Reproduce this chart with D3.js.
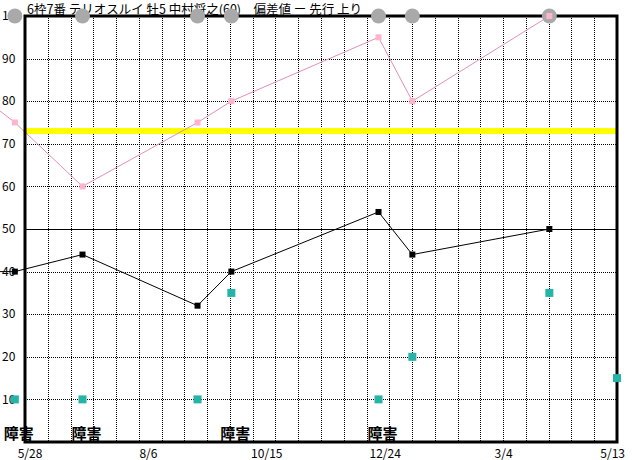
<!DOCTYPE html>
<html>
<head>
<meta charset="utf-8">
<script src="https://cdn.jsdelivr.net/npm/d3@7"></script>
<style>
  body { margin: 0; background: #fff; }
  text { font-family: "Noto Sans CJK JP", "Noto Sans", sans-serif; }
</style>
</head>
<body>
<div id="chart"></div>
<script>
// DATA
// ---------------------------------------------------------------------
const titleText = "6枠7番 テリオスルイ 牡5 中村将之(60)　偏差値 ー 先行 上り";
const raceDates = ["2022-04-10", "2022-05-22", "2022-07-01", "2022-09-07", "2022-09-27",
                   "2022-12-23", "2023-01-12", "2023-04-03", "2023-05-13"];
const blackVals = [40, 40, 44, 32, 40, 54, 44, 50, null];
const pinkVals  = [88, 75, 60, 75, 80, 95, 80, 100, null];
const tealVals  = [null, 10, 10, 10, 35, 10, 20, 35, 15];
const raceTags  = ["", "障害", "障害", "", "障害", "障害", "", "", ""];
const tickDates = ["2022-05-28", "2022-08-06", "2022-10-15", "2022-12-24", "2023-03-04", "2023-05-13"];
const tickLabels = ["5/28", "8/6", "10/15", "12/24", "3/4", "5/13"];
const yTicks = [10, 20, 30, 40, 50, 60, 70, 80, 90, 100];
const guideValue = 73;

// SETUP
// ---------------------------------------------------------------------
const W = 632, H = 460;
const pad = { left: 25, right: 617, top: 16, bottom: 442 };
const parse = d3.timeParse("%Y-%m-%d");

const svg = d3.select("#chart").append("svg")
  .attr("width", W).attr("height", H)
  .style("display", "block");

svg.append("rect").attr("width", W).attr("height", H).attr("fill", "#fff");

const x = d3.scaleTime()
  .domain([parse(tickDates[0]), parse(tickDates[tickDates.length - 1])])
  .range([pad.left, pad.right]);
const y = d3.scaleLinear().domain([0, 100]).range([pad.bottom, pad.top]);
const col = d3.scaleLinear().domain([0, 26]).range([pad.left, pad.right]);

const races = raceDates.map((d, i) => ({
  date: parse(d), black: blackVals[i], pink: pinkVals[i], teal: tealVals[i], tag: raceTags[i]
}));

// GRID
// ---------------------------------------------------------------------
svg.append("g").selectAll("line")
  .data(d3.range(1, 26))
  .enter().append("line")
  .attr("x1", d => Math.round(col(d)) + 0.5).attr("x2", d => Math.round(col(d)) + 0.5)
  .attr("y1", pad.top).attr("y2", pad.bottom)
  .attr("stroke", "#000").attr("stroke-dasharray", "1,1");

svg.append("g").selectAll("line")
  .data(yTicks.filter(v => v < 100))
  .enter().append("line")
  .attr("x1", pad.left).attr("x2", pad.right)
  .attr("y1", d => Math.round(y(d)) + 0.5).attr("y2", d => Math.round(y(d)) + 0.5)
  .attr("stroke", "#000")
  .attr("stroke-dasharray", d => d === 50 ? null : "1,1");

// guide line
svg.append("line")
  .attr("x1", pad.left).attr("x2", pad.right)
  .attr("y1", y(guideValue)).attr("y2", y(guideValue))
  .attr("stroke", "#ffff00").attr("stroke-width", 6);

// LINES
// ---------------------------------------------------------------------
svg.append("path")
  .datum(races.filter(d => d.pink != null))
  .attr("fill", "none").attr("stroke", "#e38fb8").attr("stroke-width", 1)
  .attr("d", d3.line().x(d => x(d.date)).y(d => y(d.pink)));

svg.append("path")
  .datum(races.filter(d => d.black != null))
  .attr("fill", "none").attr("stroke", "#000").attr("stroke-width", 1)
  .attr("d", d3.line().x(d => x(d.date)).y(d => y(d.black)));

// FRAME
// ---------------------------------------------------------------------
svg.append("rect")
  .attr("x", pad.left).attr("y", pad.top)
  .attr("width", pad.right - pad.left).attr("height", pad.bottom - pad.top)
  .attr("fill", "none").attr("stroke", "#000").attr("stroke-width", 3);

// TITLE
svg.append("text")
  .attr("x", 27).attr("y", 14)
  .attr("font-size", 12.5)
  .style("white-space", "pre")
  .text(titleText);

// Y LABELS
svg.append("g").selectAll("text")
  .data(yTicks)
  .enter().append("text")
  .attr("x", 2).attr("y", d => y(d))
  .attr("dy", "0.35em")
  .attr("font-size", 12)
  .text(d => d);

// X LABELS
const xl = svg.append("g").selectAll("text")
  .data(tickDates)
  .enter().append("text")
  .attr("x", d => x(parse(d)) + 5)
  .attr("y", 458)
  .attr("font-size", 12)
  .attr("text-anchor", "middle")
  .text((d, i) => tickLabels[i]);
xl.each(function () {
  const t = d3.select(this);
  const w = this.getComputedTextLength();
  const cx = +t.attr("x");
  if (cx - w / 2 < 17) t.attr("x", 17 + w / 2);
  if (cx + w / 2 > 625) t.attr("x", 625 - w / 2);
});

// MARKERS
// ---------------------------------------------------------------------
svg.append("g").selectAll("rect")
  .data(races.filter(d => d.black != null))
  .enter().append("rect")
  .attr("x", d => x(d.date) - 3).attr("y", d => y(d.black) - 3)
  .attr("width", 6).attr("height", 6).attr("fill", "#000");

svg.append("g").selectAll("rect")
  .data(races.filter(d => d.teal != null))
  .enter().append("rect")
  .attr("x", d => x(d.date) - 4).attr("y", d => y(d.teal) - 4)
  .attr("width", 8).attr("height", 8).attr("fill", "#26b3a8");

svg.append("g").selectAll("circle")
  .data(races.filter(d => d.black != null))
  .enter().append("circle")
  .attr("cx", d => x(d.date)).attr("cy", y(100))
  .attr("r", 7.5).attr("fill", "#a9a9a9");

svg.append("g").selectAll("rect")
  .data(races.filter(d => d.pink != null))
  .enter().append("rect")
  .attr("x", d => x(d.date) - 3).attr("y", d => y(d.pink) - 3)
  .attr("width", 6).attr("height", 6).attr("fill", "#ffb3cc");

// TAGS
svg.append("g").selectAll("text")
  .data(races.filter(d => d.tag))
  .enter().append("text")
  .attr("x", d => x(d.date) - 11).attr("y", 439)
  .attr("font-size", 15).attr("font-weight", "bold")
  .text(d => d.tag);
</script>
</body>
</html>
